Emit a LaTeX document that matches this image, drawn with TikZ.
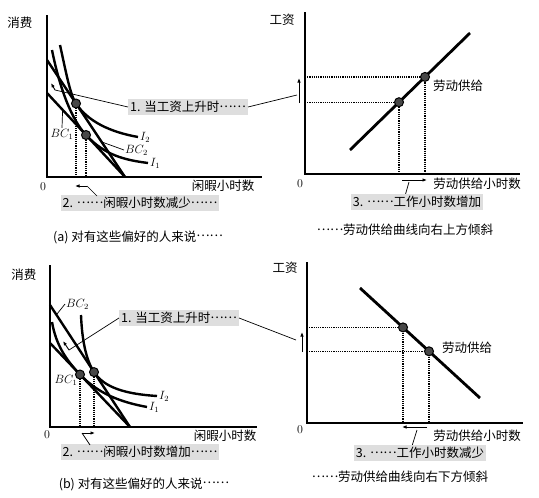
\documentclass[tikz,border=0pt]{standalone}
\usepackage{fontspec}
\newfontfamily\cjk{Noto Sans CJK SC}
\usepackage{tikz}
\usetikzlibrary{arrows.meta,positioning,calc}
\newcommand{\zhdots}{\raisebox{0.33em}{……}}

\begin{document}
\begin{tikzpicture}[
  x=1pt, y=-1pt, every node/.style={font=\cjk\fontsize{12.5}{14}\selectfont, inner sep=1pt},
  ax/.style={line width=1.4pt},
  bc/.style={line width=2.4pt},
  ic/.style={line width=2.4pt},
  sup/.style={line width=2.8pt},
  guide/.style={densely dotted, line width=1.2pt},
  eqpt/.style={circle, fill=black!72, draw=black, line width=1pt, minimum size=9pt, inner sep=0pt},
  callout/.style={fill=black!13, inner sep=2pt},
  lead/.style={line width=0.7pt},
  mv/.style={-{Latex[length=4.5pt,width=3.5pt]}, line width=0.9pt},
  mlbl/.style={font=\fontsize{12}{14}\selectfont, inner sep=1pt},
]
\useasboundingbox (0,0) rectangle (539,498);
\newcommand{\eqdot}[3]{% name, point, origin
  \draw[guide] (#2) -- (#2 |- #3);
  \node[eqpt] (#1) at (#2) {};}
\newcommand{\eqdothv}[3]{%
  \draw[guide] (#2 -| #3) -- (#2) -- (#2 |- #3);
  \node[eqpt] (#1) at (#2) {};}
% ---------------- (a) leisure ----------------
\coordinate (oa) at (47,177);
\draw[ax] (47,15) -- (oa) -- (262,177);
\node (ya) at (20,23) {消费};
\node[mlbl] (za) at (43,187) {0};
\node (xa) at (223,186) {闲暇小时数};
\draw[bc] (47,93) -- coordinate[pos=0.2] (bc1a) (125,177);
\draw[bc] (47,60) -- coordinate[pos=0.7] (bc2a) (125,177);
\draw[ic] (60,45) .. controls (66,72) and (70,94.5) .. (76,103.5)
  .. controls (88,121.5) and (110,132) .. (138,137) coordinate (i2a);
\draw[ic] (52,50) .. controls (60,90) and (72,120) .. (86,135)
  .. controls (105,155.5) and (125,160) .. (148,163) coordinate (i1a);
\node[mlbl, right=1pt of i2a] (li2a) {$I_2$};
\node[mlbl, right=1pt of i1a] (li1a) {$I_1$};
\coordinate (pa2) at (76,103.5); \coordinate (pa1) at (86,135);
\eqdot{ea2}{pa2}{oa}
\eqdot{ea1}{pa1}{oa}
\node[mlbl] (lbc1a) at (62,134) {$BC_1$};
\draw[lead] (bc1a) -- (lbc1a.north);
\node[mlbl, anchor=west] (lbc2a) at (124,150) {$BC_2$};
\draw[lead] (bc2a) -- (lbc2a.west);
\draw[mv] (55,90) coordinate (ma) -- (51,83);
\node[callout] (wa) at (188,107) {1. 当工资上升时\zhdots};
\draw[lead] (ma) -- (wa.west);
\draw[mv] (87,186) coordinate (mla) -- (75,186);
\node[callout] (la) at (140,203) {2. \zhdots 闲暇小时数减少\zhdots};
\coordinate (ka) at (97,196);
\draw[lead] (mla) -- (ka);
\node (capa) at (138,237) {(a) 对有这些偏好的人来说\zhdots};
% ---------------- (a) labour supply ----------------
\coordinate (ob) at (305,174);
\draw[ax] (305,12) -- (ob) -- (520,174);
\node (yb) at (282,20) {工资};
\node[mlbl] (zb) at (300,184) {0};
\node (xb) at (477,184) {劳动供给小时数};
\draw[sup] (350,150) -- (470,33);
\coordinate (pb1) at (399,102.2); \coordinate (pb2) at (425,76.9);
\eqdothv{eb1}{pb1}{ob}
\eqdothv{eb2}{pb2}{ob}
\node (sla) at (458,86) {劳动供给};
\draw[mv] (299,103) -- (299,78);
\coordinate (wt) at (297,95);
\draw[lead] (wa.east) -- (wt);
\draw[mv] (402,180) -- (427,180);
\coordinate (mlb) at (409,182); \coordinate (kb) at (405,196);
\draw[lead] (mlb) -- (kb);
\node[callout] (lb) at (417,202) {3. \zhdots 工作小时数增加};
\node (capb) at (405,230) {\zhdots 劳动供给曲线向右上方倾斜};
% ---------------- (b) leisure ----------------
\coordinate (oc) at (50,427);
\draw[ax] (50,265) -- (oc) -- (257,427);
\node (yc) at (24,275) {消费};
\node[mlbl] (zc) at (47,435) {0};
\node (xc) at (225,436) {闲暇小时数};
\draw[bc] (50,343) -- (130,427);
\draw[bc] (50,305) -- coordinate[pos=0.08] (bc2c) (130,427);
\draw[ic] (52,322) .. controls (56,345) and (66,359.8) .. (80,374.5)
  .. controls (98,393.4) and (120,402) .. (147,407) coordinate (i1c);
\draw[ic] (81,315) .. controls (82,340) and (86,359.9) .. (94,372.1)
  .. controls (104,387.4) and (125,394) .. (157,396) coordinate (i2c);
\node[mlbl, right=1pt of i2c] (li2c) {$I_2$};
\node[mlbl, right=1pt of i1c] (li1c) {$I_1$};
\coordinate (pc1) at (80,374.5); \coordinate (pc2) at (94,372.1);
\eqdot{ec1}{pc1}{oc}
\eqdot{ec2}{pc2}{oc}
\node[mlbl] (lbc1c) at (66,380) {$BC_1$};
\node[mlbl, anchor=west] (lbc2c) at (65,304) {$BC_2$};
\draw[lead] (bc2c) -- (lbc2c.west);
\draw[mv] (69,350) coordinate (mc) -- (63,341);
\node[callout] (wc) at (179,318) {1. 当工资上升时\zhdots};
\draw[lead] (mc) -- (wc.west);
\draw[mv] (82,433) coordinate (mlc) -- (95,433);
\node[callout] (lc) at (140,452) {2. \zhdots 闲暇小时数增加\zhdots};
\coordinate (kc) at (90,445);
\draw[lead] (mlc) -- (kc);
\node (capc) at (144,484) {(b) 对有这些偏好的人来说\zhdots};
% ---------------- (b) labour supply ----------------
\coordinate (od) at (307,423);
\draw[ax] (307,262) -- (od) -- (523,423);
\node (yd) at (285,268) {工资};
\node[mlbl] (zd) at (300,430) {0};
\node (xd) at (477,436) {劳动供给小时数};
\draw[sup] (360,288) -- (480,398);
\coordinate (pd1) at (403,327.4); \coordinate (pd2) at (429,351.3);
\eqdothv{ed1}{pd1}{od}
\eqdothv{ed2}{pd2}{od}
\node (sld) at (467,348) {劳动供给};
\draw[mv] (302,352) -- (302,332);
\coordinate (wu) at (296,340);
\draw[lead] (wc.east) -- (wu);
\draw[mv] (427,427) -- (402,427);
\coordinate (mld) at (417,430); \coordinate (kd) at (412,446);
\draw[lead] (mld) -- (kd);
\node[callout] (ld) at (420,453) {3. \zhdots 工作小时数减少};
\node (capd) at (400,477) {\zhdots 劳动供给曲线向右下方倾斜};
\end{tikzpicture}
\end{document}
